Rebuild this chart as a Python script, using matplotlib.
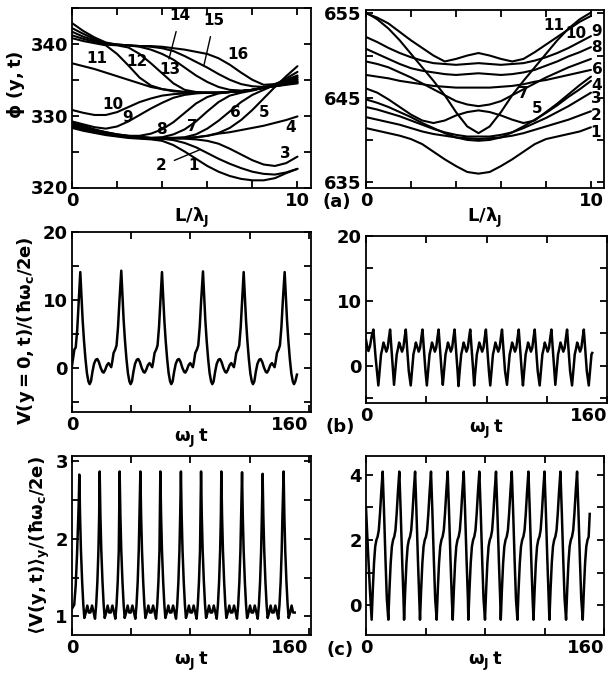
import numpy as np
import matplotlib.pyplot as plt

plt.rcParams['font.family'] = 'DejaVu Sans'
plt.rcParams['font.weight'] = 'bold'
plt.rcParams['mathtext.fontset'] = 'dejavusans'
plt.rcParams['mathtext.default'] = 'bf'

# ---- panel (a): phi(y,t) snapshots along the junction, L/lambda_J = 0..10 ----
x_a = np.linspace(0, 10, 21)

# left column, curves 1..16
phi_l01 = [328.3, 327.9, 327.6, 327.3, 327.1, 326.9, 326.8, 326.7, 326.5, 325.9, 325.0, 324.0, 323.0, 322.2, 321.6, 321.2, 321.0, 321.0, 321.3, 322.0, 322.6]
phi_l02 = [328.4, 328.0, 327.7, 327.4, 327.2, 327.0, 326.9, 326.8, 326.8, 326.6, 326.2, 325.6, 324.8, 324.0, 323.3, 322.7, 322.2, 321.9, 321.8, 322.1, 322.6]
phi_l03 = [328.5, 328.1, 327.8, 327.5, 327.2, 327.0, 326.9, 326.8, 326.8, 326.8, 326.8, 326.7, 326.5, 326.1, 325.4, 324.6, 323.8, 323.2, 323.0, 323.4, 324.3]
phi_l04 = [328.6, 328.2, 327.8, 327.5, 327.3, 327.1, 327.0, 326.9, 326.9, 326.9, 326.9, 327.0, 327.2, 327.5, 327.7, 328.0, 328.3, 328.6, 329.0, 329.4, 329.9]
phi_l05 = [328.7, 328.3, 327.9, 327.6, 327.3, 327.1, 327.0, 326.9, 326.9, 326.9, 326.9, 327.0, 327.2, 327.6, 328.3, 329.4, 330.8, 332.4, 334.0, 335.5, 336.9]
phi_l06 = [328.8, 328.4, 328.0, 327.6, 327.3, 327.1, 327.0, 326.9, 326.9, 326.9, 327.0, 327.4, 328.2, 329.3, 330.6, 331.9, 332.9, 333.6, 334.3, 335.2, 336.1]
phi_l07 = [328.9, 328.5, 328.0, 327.7, 327.4, 327.2, 327.0, 326.9, 327.0, 327.4, 328.1, 329.2, 330.6, 331.9, 332.8, 333.2, 333.5, 333.9, 334.4, 335.0, 335.6]
phi_l08 = [329.0, 328.6, 328.1, 327.7, 327.4, 327.2, 327.2, 327.5, 328.1, 329.1, 330.4, 331.7, 332.6, 333.1, 333.3, 333.4, 333.6, 333.9, 334.3, 334.8, 335.3]
phi_l09 = [329.2, 328.8, 328.4, 328.2, 328.5, 329.2, 330.1, 331.0, 331.8, 332.5, 332.9, 333.1, 333.2, 333.2, 333.3, 333.4, 333.6, 333.9, 334.2, 334.6, 335.0]
phi_l10 = [330.8, 330.4, 330.1, 330.1, 330.5, 331.2, 331.9, 332.4, 332.8, 333.0, 333.1, 333.2, 333.2, 333.2, 333.3, 333.4, 333.6, 333.9, 334.2, 334.5, 334.8]
phi_l11 = [337.3, 336.9, 336.5, 336.0, 335.5, 335.0, 334.5, 334.0, 333.7, 333.5, 333.3, 333.2, 333.2, 333.2, 333.3, 333.4, 333.6, 333.9, 334.1, 334.4, 334.6]
phi_l12 = [340.8, 340.4, 340.1, 339.8, 338.6, 337.0, 335.3, 334.2, 333.7, 333.4, 333.3, 333.2, 333.2, 333.2, 333.3, 333.4, 333.6, 333.9, 334.1, 334.3, 334.5]
phi_l13 = [341.2, 340.7, 340.3, 339.9, 339.8, 339.5, 338.6, 337.3, 335.9, 334.5, 333.6, 333.3, 333.2, 333.2, 333.3, 333.4, 333.6, 333.9, 334.1, 334.4, 334.6]
phi_l14 = [341.7, 341.0, 340.5, 340.0, 339.9, 339.8, 339.6, 339.2, 338.6, 337.8, 336.7, 335.6, 334.7, 334.0, 333.6, 333.5, 333.6, 333.9, 334.2, 334.5, 334.8]
phi_l15 = [342.2, 341.4, 340.7, 340.1, 339.9, 339.8, 339.7, 339.6, 339.4, 339.0, 338.3, 337.5, 336.7, 335.8, 335.0, 334.4, 334.1, 334.0, 334.3, 334.7, 335.1]
phi_l16 = [342.9, 341.8, 340.9, 340.2, 339.9, 339.8, 339.7, 339.7, 339.6, 339.4, 339.2, 338.9, 338.6, 338.0, 337.1, 336.0, 335.0, 334.3, 334.4, 334.9, 335.4]

# right column, curves 1..11
phi_r01 = [641.4, 641.1, 640.8, 640.5, 640.1, 639.5, 638.6, 637.7, 636.9, 636.2, 636.0, 636.2, 636.9, 637.7, 638.6, 639.5, 640.1, 640.4, 640.7, 641.0, 641.5]
phi_r02 = [642.7, 642.4, 642.1, 641.8, 641.4, 641.0, 640.7, 640.5, 640.3, 640.2, 640.1, 640.2, 640.3, 640.5, 640.8, 641.2, 641.6, 642.0, 642.4, 642.9, 643.4]
phi_r03 = [643.9, 643.6, 643.2, 642.8, 642.3, 641.8, 641.3, 640.9, 640.6, 640.4, 640.4, 640.4, 640.6, 640.9, 641.4, 642.0, 642.6, 643.3, 644.0, 644.8, 645.6]
phi_r04 = [644.8, 644.4, 643.9, 643.3, 642.7, 642.0, 641.4, 640.8, 640.3, 640.0, 639.9, 640.0, 640.3, 640.9, 641.6, 642.4, 643.2, 644.1, 645.1, 646.0, 647.0]
phi_r05 = [646.1, 645.6, 644.8, 643.9, 643.0, 642.3, 642.0, 642.3, 642.9, 643.3, 643.5, 643.3, 642.9, 642.4, 642.0, 642.3, 643.3, 644.3, 645.4, 646.5, 647.5]
phi_r06 = [647.7, 647.5, 647.3, 647.0, 646.8, 646.6, 646.4, 646.3, 646.2, 646.2, 646.2, 646.2, 646.3, 646.4, 646.6, 646.9, 647.1, 647.4, 647.7, 648.0, 648.3]
phi_r07 = [649.3, 649.0, 648.6, 648.0, 647.4, 646.7, 646.0, 645.3, 644.6, 644.2, 644.0, 644.2, 644.6, 645.3, 646.0, 646.7, 647.4, 648.0, 648.6, 649.1, 649.6]
phi_r08 = [650.8, 650.2, 649.6, 649.0, 648.5, 648.2, 648.0, 647.8, 647.7, 647.8, 647.9, 647.8, 647.7, 647.8, 648.0, 648.3, 648.8, 649.3, 649.9, 650.4, 651.0]
phi_r09 = [652.2, 651.6, 650.9, 650.3, 649.8, 649.4, 649.1, 649.0, 648.9, 649.0, 649.1, 649.0, 648.9, 649.0, 649.1, 649.4, 649.8, 650.3, 650.9, 651.6, 652.3]
phi_r10 = [655.0, 654.5, 653.8, 652.8, 651.8, 650.9, 650.0, 649.3, 649.6, 650.0, 650.3, 650.0, 649.6, 649.3, 649.6, 650.4, 651.3, 652.2, 653.1, 654.0, 654.7]
phi_r11 = [655.1, 654.3, 653.2, 651.8, 650.2, 648.6, 647.0, 645.3, 643.3, 641.6, 640.8, 641.6, 643.3, 645.3, 647.0, 648.6, 650.2, 651.8, 653.2, 654.3, 655.1]

# ---- panel (b): V(y=0,t) ----
# left: spikes (peak times / heights) and the wave between two spikes
vb_l_lead_t = [0.0, 0.8, 1.6, 2.5, 3.5, 4.5]
vb_l_lead_v = [0.3, 1.5, 2.7, 3.0, 5.5, 9.5]
vb_l_peak_t = [5.6, 33.3, 60.8, 88.5, 116.0, 143.7]
vb_l_peak_v = [14.1, 14.3, 14.1, 14.2, 14.1, 14.1]
vb_l_shape_dt = [0.8, 1.6, 2.5, 3.5, 4.5, 5.5, 6.3, 7.2, 8.2, 9.3, 10.5, 11.5, 12.5, 13.8, 15.0, 15.8, 16.8, 18.0,
                 19.1, 20.0, 20.9, 21.6, 22.5, 23.6, 24.5, 25.5, 26.5]
vb_l_shape_v = [10.5, 7.0, 4.0, 1.3, -0.8, -2.0, -2.4, -2.0, -0.6, 0.6, 1.2, 1.3, 0.9, 0.0, -0.6, -0.7, -0.3, 0.4,
                0.7, 0.4, 0.1, 0.9, 2.2, 2.7, 3.3, 6.0, 10.0]
vb_l_tail_t = [152.0]
vb_l_tail_v = [-1.0]

# right: troughs and the wave between two troughs
vb_r_lead_t = [0.0, 0.8, 1.6, 2.6, 3.8, 4.9, 6.3]
vb_r_lead_v = [4.0, 3.0, 2.3, 3.0, 4.6, 5.6, 1.5]
vb_r_trough_t = [8.2, 18.6, 29.7, 40.4, 51.0, 61.4, 71.8, 82.5, 93.6, 104.2, 115.3, 125.7, 136.8, 147.9]
vb_r_trough_v = [-3.0, -2.9, -3.0, -3.0, -2.9, -3.1, -3.0, -3.0, -2.9, -3.0, -3.0, -2.9, -3.0, -3.0]
vb_r_shape_dt = [0.9, 1.8, 2.6, 3.4, 4.4, 5.3, 6.2, 7.0, 7.8, 8.8, 9.8]
vb_r_shape_v = [-0.5, 1.8, 2.6, 3.6, 2.9, 2.2, 2.8, 4.3, 5.6, 2.4, -0.8]
vb_r_tail_t = [150.2]
vb_r_tail_v = [2.0]

# ---- panel (c): <V(y,t)>_y ----
vc_l_lead_t = [0.0, 1.5, 2.5, 3.4, 4.1, 4.6]
vc_l_lead_v = [1.1, 1.15, 1.4, 1.8, 2.2, 2.5]
vc_l_peak_t = [4.95, 18.7, 32.2, 46.2, 59.7, 73.6, 87.2, 100.9, 114.9, 128.8, 143.0]
vc_l_peak_v = [2.83, 2.87, 2.87, 2.87, 2.87, 2.87, 2.87, 2.87, 2.86, 2.84, 2.87]
vc_l_shape_dt = [0.5, 1.1, 1.9, 2.7, 3.4, 4.4, 5.4, 6.4, 7.5, 8.6, 9.7, 10.6, 11.4, 12.2, 12.9, 13.4]
vc_l_shape_v = [2.3, 1.85, 1.45, 1.15, 0.98, 1.05, 1.14, 1.05, 1.05, 1.14, 1.05, 0.97, 1.15, 1.45, 1.85, 2.3]

vc_r_lead_t = [0.0, 1.3, 2.6]
vc_r_lead_v = [3.0, 1.7, 0.5]
vc_r_trough_t = [3.8, 15.0, 25.6, 36.3, 47.5, 58.3, 68.8, 80.0, 90.6, 101.8, 112.6, 123.3, 134.5, 145.7]
vc_r_trough_v = [-0.45] * 14
vc_r_shape_dt = [0.8, 1.6, 2.4, 3.2, 4.0, 4.8, 5.6, 6.5, 7.4, 8.3, 9.3, 10.2]
vc_r_shape_v = [0.5, 1.3, 1.8, 2.0, 2.1, 2.3, 2.8, 3.5, 4.1, 2.9, 1.4, 0.2]
vc_r_tail_t = [150.4]
vc_r_tail_v = [2.8]


def assemble(lead_t, lead_v, ev_t, ev_v, dt_shape, v_shape, t_stop, tail_t=(), tail_v=()):
    # chain the read-off wave after every marked spike / trough
    t, v = list(lead_t), list(lead_v)
    for i in range(len(ev_t)):
        nxt = ev_t[i + 1] if i + 1 < len(ev_t) else t_stop
        t.append(ev_t[i])
        v.append(ev_v[i])
        for d, s in zip(dt_shape, v_shape):
            if ev_t[i] + d < nxt - 0.2:
                t.append(ev_t[i] + d)
                v.append(s)
    return t + list(tail_t), v + list(tail_v)


def style(ax, xt, xl, yt, yl, xlim, ylim):
    ax.set_xlim(*xlim)
    ax.set_ylim(*ylim)
    ax.set_xticks(xt)
    ax.set_xticklabels(xl)
    ax.set_yticks(yt)
    ax.set_yticklabels(yl)
    ax.tick_params(direction='in', top=True, right=True, length=5, width=1.3, labelsize=13, pad=3)
    for s in ax.spines.values():
        s.set_linewidth(1.3)


W, H = 615, 675
fig = plt.figure(figsize=(W / 100, H / 100), dpi=100)


def rect(l, t, r, b):
    return [l / W, 1 - b / H, (r - l) / W, (b - t) / H]


ax_al = fig.add_axes(rect(72, 8, 311, 187.5))
ax_ar = fig.add_axes(rect(366, 10, 604, 188))
ax_bl = fig.add_axes(rect(72, 232, 311, 412))
ax_br = fig.add_axes(rect(366, 236, 607, 403))
ax_cl = fig.add_axes(rect(72, 456, 311, 635))
ax_cr = fig.add_axes(rect(366, 456, 604, 635))

lw = 1.5
for y in [phi_l01, phi_l02, phi_l03, phi_l04, phi_l05, phi_l06, phi_l07, phi_l08,
          phi_l09, phi_l10, phi_l11, phi_l12, phi_l13, phi_l14, phi_l15, phi_l16]:
    ax_al.plot(x_a, y, color='black', lw=lw, solid_capstyle='round')
for y in [phi_r01, phi_r02, phi_r03, phi_r04, phi_r05, phi_r06,
          phi_r07, phi_r08, phi_r09, phi_r10, phi_r11]:
    ax_ar.plot(x_a, y, color='black', lw=lw, solid_capstyle='round')

xt_a = [0, 2, 4, 6, 8, 10]
xl_a = ['0', '', '', '', '', '10']
style(ax_al, xt_a, xl_a, [320, 325, 330, 335, 340, 345], ['320', '', '330', '', '340', ''], (0, 10.6), (320, 345))
style(ax_ar, xt_a, xl_a, [635, 640, 645, 650, 655], ['635', '', '645', '', '655'], (0, 10.58), (634.3, 655.4))

# curve numbers, left
lbl_kw = dict(fontsize=11, ha='center', va='center')
for s, x, y in [('11', 1.1, 337.9), ('12', 2.9, 337.5), ('13', 4.35, 336.4), ('16', 7.35, 338.5),
                ('10', 1.8, 331.6), ('9', 2.45, 329.8), ('8', 3.95, 328.1), ('7', 5.35, 328.5),
                ('6', 7.25, 330.5), ('5', 8.5, 330.5), ('4', 9.7, 328.4), ('3', 9.45, 324.8),
                ('1', 5.4, 323.0)]:
    ax_al.text(x, y, s, **lbl_kw)
arrow = dict(arrowstyle='-', lw=1.0, color='black', shrinkA=4, shrinkB=0)
ax_al.annotate('14', xy=(4.3, 337.9), xytext=(4.8, 343.9), arrowprops=arrow, **lbl_kw)
ax_al.annotate('15', xy=(5.85, 337.0), xytext=(6.3, 343.2), arrowprops=arrow, **lbl_kw)
ax_al.annotate('2', xy=(5.7, 325.3), xytext=(3.95, 323.0), arrowprops=arrow, **lbl_kw)

# curve numbers, right
for s, x, y in [('11', 8.35, 653.6), ('10', 9.35, 652.6), ('9', 10.25, 652.9), ('8', 10.25, 650.9),
                ('6', 10.3, 648.3), ('4', 10.25, 646.5), ('3', 10.25, 644.9), ('2', 10.25, 642.9),
                ('1', 10.2, 640.9), ('7', 7.0, 645.5), ('5', 7.6, 643.7)]:
    ax_ar.text(x, y, s, **lbl_kw)

ax_al.set_xlabel(r'$L/\lambda_J$', fontsize=13, labelpad=-3)
ax_ar.set_xlabel(r'$L/\lambda_J$', fontsize=13, labelpad=-3)
ax_al.set_ylabel(r'$\phi\ (y,t)$', fontsize=13)
ax_al.yaxis.set_label_coords(-0.19, 0.57)

# time traces
lw_t = 1.8
t, v = assemble(vb_l_lead_t, vb_l_lead_v, vb_l_peak_t, vb_l_peak_v, vb_l_shape_dt, vb_l_shape_v,
                151.5, vb_l_tail_t, vb_l_tail_v)
ax_bl.plot(t, v, color='black', lw=lw_t)
t, v = assemble(vb_r_lead_t, vb_r_lead_v, vb_r_trough_t, vb_r_trough_v, vb_r_shape_dt, vb_r_shape_v,
                150.0, vb_r_tail_t, vb_r_tail_v)
ax_br.plot(t, v, color='black', lw=lw_t)
t, v = assemble(vc_l_lead_t, vc_l_lead_v, vc_l_peak_t, vc_l_peak_v, vc_l_shape_dt, vc_l_shape_v, 151.0)
ax_cl.plot(t, v, color='black', lw=lw_t)
t, v = assemble(vc_r_lead_t, vc_r_lead_v, vc_r_trough_t, vc_r_trough_v, vc_r_shape_dt, vc_r_shape_v,
                150.0, vc_r_tail_t, vc_r_tail_v)
ax_cr.plot(t, v, color='black', lw=lw_t)

xt_t = [0, 40, 80, 120, 160]
xl_t = ['0', '', '', '', '160']
style(ax_bl, xt_t, xl_t, [-5, 0, 5, 10, 15, 20], ['', '0', '', '10', '', '20'], (0, 161.5), (-6.5, 20))
style(ax_br, xt_t, xl_t, [-5, 0, 5, 10, 15, 20], ['', '0', '', '10', '', '20'], (0, 160), (-5.7, 20))
style(ax_cl, xt_t, xl_t, [1, 1.5, 2, 2.5, 3], ['1', '', '2', '', '3'], (0, 161.5), (0.76, 3.07))
style(ax_cr, xt_t, xl_t, [0, 1, 2, 3, 4], ['0', '', '2', '', '4'], (0, 160), (-0.92, 4.58))
for ax in [ax_bl, ax_br, ax_cl, ax_cr]:
    ax.get_xticklabels()[-1].set_horizontalalignment('right')
    ax.set_xlabel(r'$\omega_J\, t$', fontsize=13, labelpad=-5)

ax_bl.set_ylabel(r'$V(y=0,t)/(\hbar\omega_c/2e)$', fontsize=13)
ax_bl.yaxis.set_label_coords(-0.145, 0.45)
ax_cl.set_ylabel(r'$\langle V(y,t)\rangle_y/(\hbar\omega_c/2e)$', fontsize=13)
ax_cl.yaxis.set_label_coords(-0.085, 0.5)

for s, px, py in [('(a)', 337, 202), ('(b)', 340, 427), ('(c)', 340, 650)]:
    fig.text(px / W, 1 - py / H, s, fontsize=13, ha='center', va='center')

fig.savefig('out.png', dpi=100)
